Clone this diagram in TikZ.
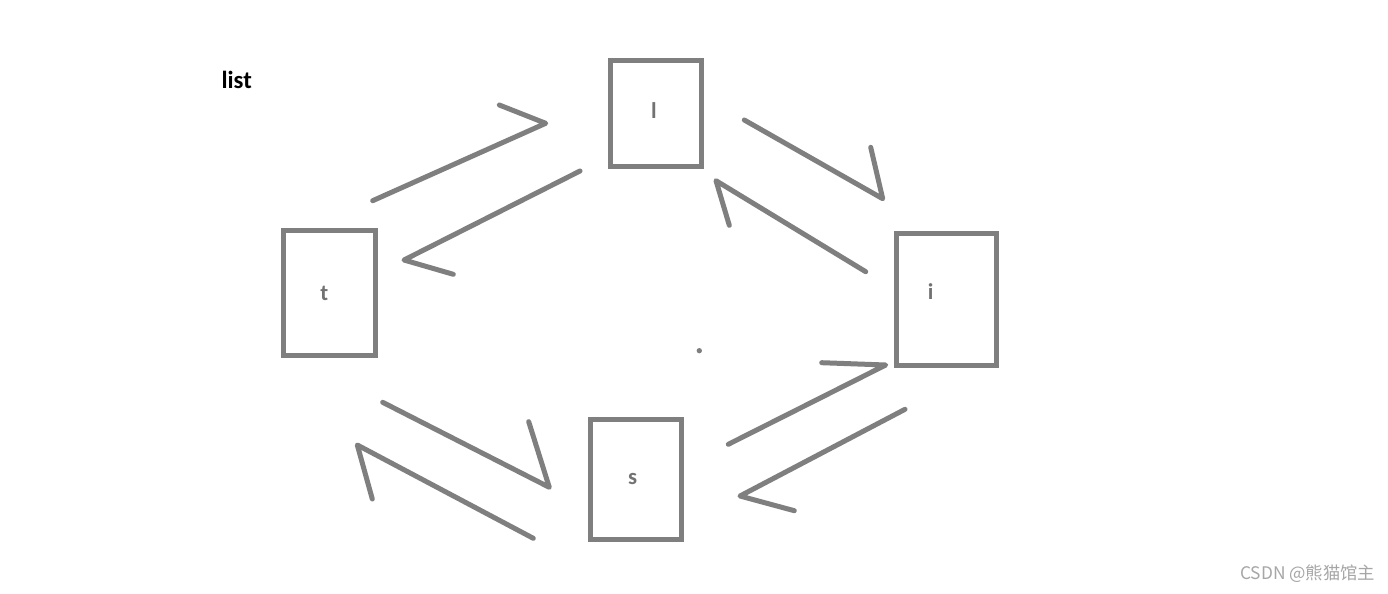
\documentclass[tikz,border=0pt]{standalone}
\usepackage{fontspec}
\setmainfont{Carlito}
\newfontfamily\cjkfont{Noto Sans CJK SC}
\definecolor{pen}{HTML}{7F7F7F}
\definecolor{mark}{HTML}{A6A6A6}
\tikzset{
  box/.style={draw=pen, line width=3.75pt, inner sep=0pt},
  stroke/.style={draw=pen, line width=3.75pt, line cap=round, line join=round},
  lbl/.style={text=pen!90!black, font=\fontsize{17}{19}\selectfont\bfseries}
}

\begin{document}
\begin{tikzpicture}[x=0.75pt,y=-0.75pt]
  \fill[white] (0,0) rectangle (1388,593);
  \useasboundingbox (0,0) rectangle (1388,593);
  % title
  \node[font=\fontsize{18.5}{20}\selectfont\bfseries] (title) at (236.7,79.5) {list};
  % boxes
  \node[box, minimum width=68.25pt, minimum height=79.5pt] (l) at (656.3,113.8) {};
  \node[box, minimum width=68.75pt, minimum height=93.5pt] (t) at (329.3,292.8) {};
  \node[box, minimum width=75pt, minimum height=99.45pt] (i) at (946.8,299.5) {};
  \node[box, minimum width=68.25pt, minimum height=90pt] (s) at (635.5,479) {};
  \node[lbl] (l-text) at (654,111) {l};
  \node[lbl] (t-text) at (324.3,293) {t};
  \node[lbl] (i-text) at (930.7,291.7) {i};
  \node[lbl] (s-text) at (632.7,479) {s};
  % strokes between the boxes
  \coordinate (tl-a) at (372.7,200.7);
  \coordinate (tl-b) at (545.7,123.3);
  \coordinate (tl-c) at (499.3,105);
  \coordinate (lt-a) at (580,171);
  \coordinate (lt-b) at (404,260);
  \coordinate (lt-c) at (453.3,274.3);
  \coordinate (li-a) at (744.3,120);
  \coordinate (li-b) at (882.7,198.7);
  \coordinate (li-c) at (870.7,147.3);
  \coordinate (il-a) at (865.7,271.7);
  \coordinate (il-b) at (716,180.7);
  \coordinate (il-c) at (729.3,225.3);
  \coordinate (is-a) at (905,409.3);
  \coordinate (is-b) at (740,496);
  \coordinate (is-c) at (794.3,510.7);
  \coordinate (si-a) at (728.3,444.3);
  \coordinate (si-b) at (885.7,365);
  \coordinate (si-c) at (821.7,362.7);
  \coordinate (ts-a) at (382.7,402.3);
  \coordinate (ts-b) at (549.3,487.3);
  \coordinate (ts-c) at (528.7,421.7);
  \coordinate (st-a) at (533.3,538.3);
  \coordinate (st-b) at (357.3,445);
  \coordinate (st-c) at (372.3,499);
  \draw[stroke] (tl-a) -- (tl-b) -- (tl-c);
  \draw[stroke] (lt-a) -- (lt-b) -- (lt-c);
  \draw[stroke] (li-a) -- (li-b) -- (li-c);
  \draw[stroke] (il-a) -- (il-b) -- (il-c);
  \draw[stroke] (is-a) -- (is-b) -- (is-c);
  \draw[stroke] (si-a) -- (si-b) -- (si-c);
  \draw[stroke] (ts-a) -- (ts-b) -- (ts-c);
  \draw[stroke] (st-a) -- (st-b) -- (st-c);
  \fill[pen] (699.3,350.7) circle (2pt);
  % watermark
  \node[text=mark, font=\cjkfont\fontsize{13}{15}\selectfont, anchor=east] (mark) at (1380,574) {CSDN @熊猫馆主};
\end{tikzpicture}
\end{document}
